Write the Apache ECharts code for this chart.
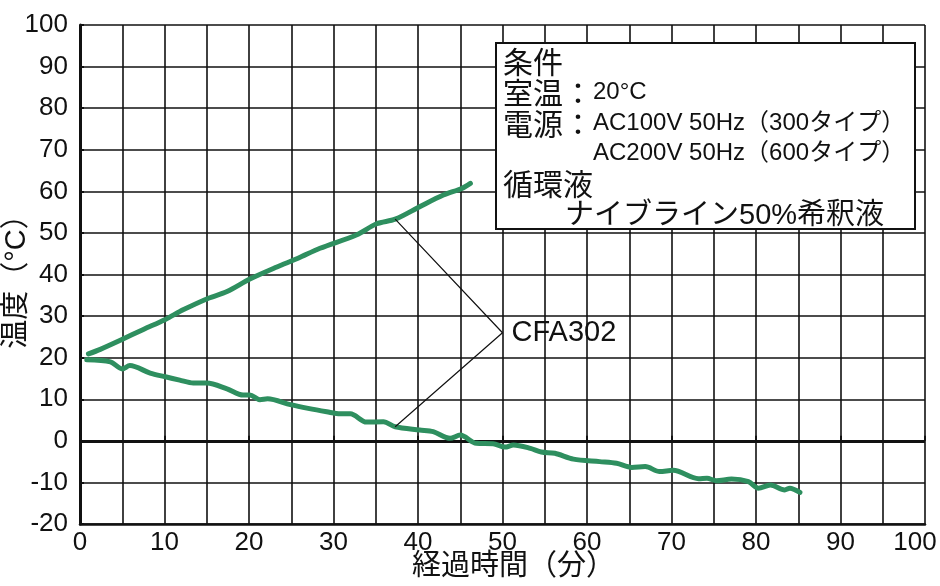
<!DOCTYPE html>
<html>
<head>
<meta charset="utf-8">
<script src="https://cdn.jsdelivr.net/npm/echarts@6/dist/echarts.min.js"></script>
<style>
html,body{margin:0;padding:0;background:#fff;}
#chart{width:940px;height:586px;}
</style>
</head>
<body>
<div id="chart"></div>
<script>
// ---- data ----
const upTime = [1.0, 2.4, 4.9, 7.5, 10.1, 12.2, 15.2, 17.4, 20.1, 23.3, 25.8, 28.4, 32.7, 35.1, 37.3, 40.2, 43.0, 45.2, 46.2];
const upTemp = [20.9, 22.0, 24.3, 26.8, 29.2, 31.5, 34.3, 35.9, 38.9, 41.8, 43.9, 46.3, 49.5, 52.2, 53.3, 56.3, 59.1, 60.7, 61.9];

const downTime = [0.8, 3.6, 5.0, 5.9, 8.3, 10.1, 11.8, 13.4, 15.0, 17.4, 19.3, 20.1, 21.3, 22.2, 24.9, 27.0, 29.2, 30.8, 32.0, 33.9, 35.9, 37.3, 40.2, 41.8, 43.8, 45.0, 46.9, 48.9, 50.3, 51.3, 53.3, 54.6, 56.2, 58.4, 61.5, 63.5, 65.3, 66.9, 68.6, 70.2, 73.2, 74.2, 75.3, 77.1, 79.1, 80.3, 81.7, 83.4, 84.0, 85.2];
const downTemp = [19.5, 19.0, 17.3, 18.1, 16.3, 15.4, 14.6, 13.9, 13.9, 12.5, 11.0, 11.0, 9.9, 10.1, 8.7, 7.8, 7.0, 6.5, 6.5, 4.5, 4.6, 3.4, 2.6, 2.2, 0.6, 1.4, -0.6, -0.7, -1.5, -1.0, -1.8, -2.7, -3.0, -4.4, -5.0, -5.4, -6.4, -6.2, -7.4, -7.1, -9.1, -9.0, -9.6, -9.2, -9.8, -11.4, -10.6, -11.8, -11.4, -12.4];

const leaderX = [37.3, 50.0, 37.3];
const leaderY = [53.3, 26.0, 3.4];
const labelName = 'CFA302';

const xName = '経過時間（分）';
const yName = '温度（°C）';
// condition box lines: [kanji prefix, latin part]
const conditionLines = [
  ['条件', ''],
  ['室温：', '20°C'],
  ['電源：', 'AC100V 50Hz（300タイプ）'],
  ['', 'AC200V 50Hz（600タイプ）'],
  ['循環液', '']
];
const fluidLine = 'ナイブライン50%希釈液';

// ---- build ----
const zip = (a, b) => a.map((v, i) => [v, b[i]]);
const FONT = "'Liberation Sans','Noto Sans CJK JP',sans-serif";
const GREEN = '#2e8f5f';
const INK = '#111';

const chart = echarts.init(document.getElementById('chart'), null, {renderer: 'canvas'});

const boxLeft = [503, 503, 503, 503, 503, 565];
const textY = [60, 91, 122, 152, 182, 212];

const graphics = [{
  type: 'rect',
  shape: {x: 496, y: 43, width: 419, height: 186},
  style: {fill: '#fff', stroke: INK, lineWidth: 2},
  z: 100
}];
function addText(x, y, text, size) {
  graphics.push({
    type: 'text', x: x, y: y,
    style: {text: text, fill: INK, font: size + 'px ' + FONT, verticalAlign: 'middle', align: 'left'},
    z: 101
  });
}
conditionLines.forEach((pair, i) => {
  if (pair[0]) addText(boxLeft[i], textY[i] + 5, pair[0], 30);
  if (pair[1]) addText(593, textY[i] + 1, pair[1], 24);
});
addText(boxLeft[5], textY[5] + 4, fluidLine, 29);

chart.setOption({
  animation: false,
  backgroundColor: '#fff',
  grid: {left: 80, right: 15, top: 25, bottom: 62, containLabel: false, outerBoundsMode: 'none'},
  xAxis: [{
    type: 'value', min: 0, max: 100, interval: 5,
    name: xName, nameLocation: 'middle', nameGap: 28, nameMoveOverlap: false,
    nameTextStyle: {fontSize: 29, color: INK, fontFamily: FONT, padding: [0, 0, 0, 22]},
    axisLine: {show: true, onZero: false, lineStyle: {color: INK, width: 2.5}},
    axisTick: {show: false},
    axisLabel: {
      fontSize: 26, color: INK, fontFamily: FONT, margin: 6,
      formatter: v => v === 100 ? '{m|100}' : (v % 10 === 0 ? String(v) : ''),
      rich: {m: {fontSize: 26, color: INK, fontFamily: FONT, padding: [0, 20, 0, 0]}}
    },
    splitLine: {show: true, lineStyle: {color: INK, width: 1.6}}
  }, {
    type: 'value', min: 0, max: 100, interval: 10, position: 'bottom',
    axisLine: {show: false, onZero: true},
    axisTick: {show: true, inside: true, length: 5, lineStyle: {color: INK, width: 2}},
    axisLabel: {show: false},
    splitLine: {show: false}
  }],
  yAxis: {
    type: 'value', min: -20, max: 100, interval: 10,
    name: yName, nameLocation: 'middle', nameGap: 48, nameRotate: 90, nameMoveOverlap: false,
    nameTextStyle: {fontSize: 29, color: INK, fontFamily: FONT},
    axisLine: {show: true, lineStyle: {color: INK, width: 3}},
    axisTick: {show: true, inside: true, length: 4, lineStyle: {color: INK, width: 2}},
    axisLabel: {fontSize: 26, color: INK, fontFamily: FONT, margin: 12},
    splitLine: {show: true, lineStyle: {color: INK, width: 1.6}}
  },
  graphic: graphics,
  series: [
    {
      type: 'line', data: zip(upTime, upTemp), showSymbol: false, smooth: 0.3,
      lineStyle: {color: GREEN, width: 5, cap: 'round', join: 'round'}, z: 5,
      markLine: {
        silent: true, symbol: 'none', label: {show: false},
        lineStyle: {color: INK, width: 3, type: 'solid'},
        data: [{yAxis: 0}]
      }
    },
    {
      type: 'line', data: zip(downTime, downTemp), showSymbol: false, smooth: 0.3,
      lineStyle: {color: GREEN, width: 5, cap: 'round', join: 'round'}, z: 5
    },
    {
      type: 'line', data: zip(leaderX, leaderY), showSymbol: false, smooth: false,
      lineStyle: {color: INK, width: 1.2}, z: 6
    },
    {
      type: 'scatter', data: [[leaderX[1], leaderY[1]]], symbolSize: 0,
      itemStyle: {opacity: 1, color: INK},
      label: {show: true, position: 'right', distance: 9, formatter: labelName,
        fontSize: 29, color: INK, opacity: 1, fontFamily: FONT}, z: 7
    }
  ]
});
</script>
</body>
</html>
